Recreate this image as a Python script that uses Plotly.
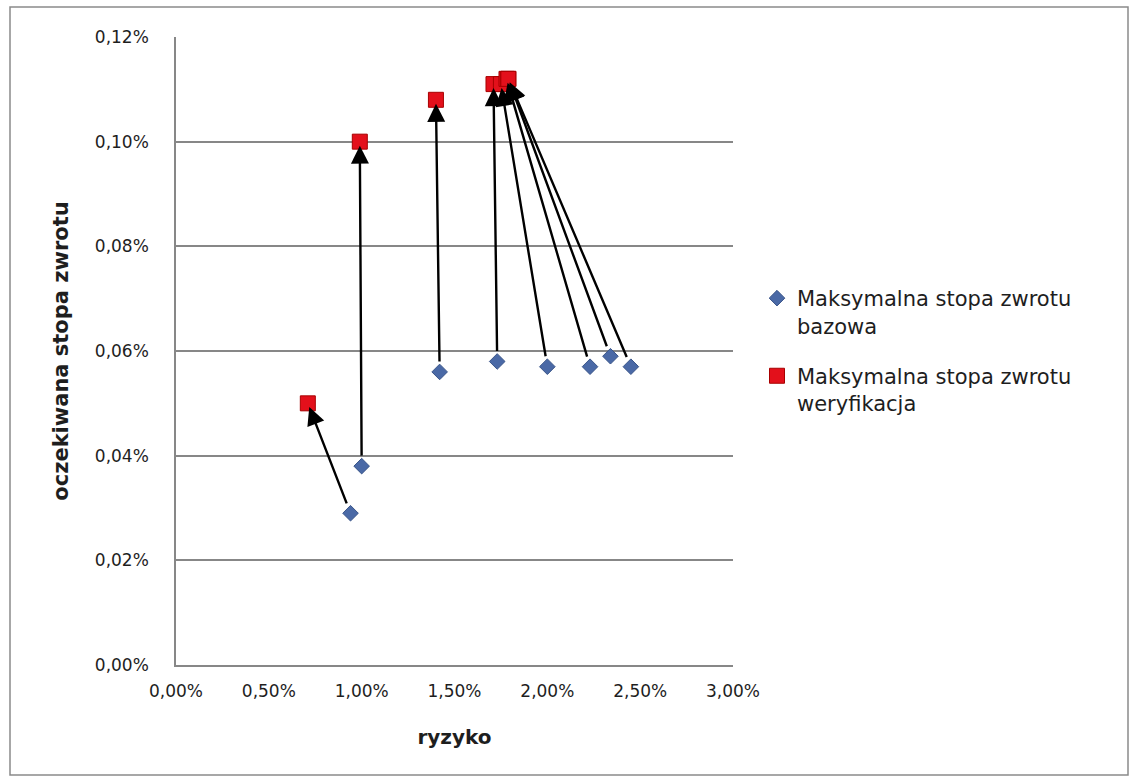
import plotly.graph_objects as go

# Risk (x, %) and expected return (y, %) for each portfolio
risk_base = [0.94, 1.00, 1.42, 1.73, 2.00, 2.23, 2.34, 2.45]
return_base = [0.029, 0.038, 0.056, 0.058, 0.057, 0.057, 0.059, 0.057]

risk_verif = [0.71, 0.99, 1.40, 1.71, 1.75, 1.78, 1.79, 1.79]
return_verif = [0.050, 0.100, 0.108, 0.111, 0.111, 0.112, 0.112, 0.112]

name_base = "Maksymalna stopa zwrotu<br>bazowa"
name_verif = "Maksymalna stopa zwrotu<br>weryfikacja"

x_ticks = [0, 0.5, 1.0, 1.5, 2.0, 2.5, 3.0]
x_tick_labels = ["0,00%", "0,50%", "1,00%", "1,50%", "2,00%", "2,50%", "3,00%"]
y_ticks = [0, 0.02, 0.04, 0.06, 0.08, 0.10, 0.12]
y_tick_labels = ["0,00%", "0,02%", "0,04%", "0,06%", "0,08%", "0,10%", "0,12%"]

W, H = 1137, 783
L, R, T, B = 176, 404, 37, 118
pw, ph = W - L - R, H - T - B

FONT = "DejaVu Sans"
TXT = "#1e1e1e"
GRID = "#878787"

fig = go.Figure()

fig.add_trace(go.Scatter(
    x=risk_base, y=return_base, mode="markers", name=name_base,
    legendgroup="base",
    marker=dict(symbol="diamond", size=12, color="#4A69A6",
                line=dict(color="#3A5589", width=1)),
))
fig.add_trace(go.Scatter(
    x=risk_verif, y=return_verif, mode="markers", name=name_verif,
    legendgroup="verif",
    marker=dict(symbol="square", size=15, color="#E3101B",
                line=dict(color="#A80000", width=1)),
))

# Arrows from each base portfolio to its verified counterpart
annotations = []
for xb, yb, xv, yv in zip(risk_base, return_base, risk_verif, return_verif):
    annotations.append(dict(
        x=xv, y=yv, xref="x", yref="y",
        ax=xb, ay=yb, axref="x", ayref="y",
        showarrow=True, arrowhead=2, arrowsize=1.5, arrowwidth=2.4,
        arrowcolor="black", standoff=4, startstandoff=9, text="",
    ))

# Outer chart border
def px_to_xpaper(px):
    return (px - L) / pw

def px_to_ypaper(py):
    return 1 - (py - T) / ph

shapes = [dict(
    type="rect", xref="paper", yref="paper",
    x0=px_to_xpaper(10), x1=px_to_xpaper(1128),
    y0=px_to_ypaper(775), y1=px_to_ypaper(7),
    line=dict(color="#8A8A8A", width=1.5), fillcolor="rgba(0,0,0,0)",
    layer="below",
)]

fig.update_layout(
    width=W, height=H,
    margin=dict(l=L, r=R, t=T, b=B, autoexpand=False),
    paper_bgcolor="white", plot_bgcolor="white",
    font=dict(family=FONT, color=TXT, size=16),
    annotations=annotations,
    shapes=shapes,
    showlegend=True,
    legend=dict(
        xref="container", yref="container",
        x=757 / W, y=1 - 278 / H, xanchor="left", yanchor="top",
        font=dict(family=FONT, size=21, color=TXT),
        valign="top", tracegroupgap=20, itemwidth=30,
        bgcolor="rgba(0,0,0,0)",
    ),
)

fig.update_xaxes(
    range=[0, 3], tickvals=x_ticks, ticktext=x_tick_labels,
    showgrid=False, zeroline=False,
    showline=True, linecolor=GRID, linewidth=1.5,
    ticks="", ticklabelstandoff=10,
    tickfont=dict(family=FONT, size=17, color=TXT),
    title=dict(text="<b>ryzyko</b>", standoff=30,
               font=dict(family=FONT, size=20, color=TXT)),
)
fig.update_yaxes(
    range=[0, 0.12], tickvals=y_ticks, ticktext=y_tick_labels,
    showgrid=True, gridcolor=GRID, gridwidth=1.5, zeroline=False,
    showline=True, linecolor=GRID, linewidth=1.5,
    ticks="", ticklabelstandoff=22,
    tickfont=dict(family=FONT, size=17, color=TXT),
    title=dict(text="<b>oczekiwana stopa zwrotu</b>", standoff=20,
               font=dict(family=FONT, size=21, color=TXT)),
)

fig.write_html("out.html")
